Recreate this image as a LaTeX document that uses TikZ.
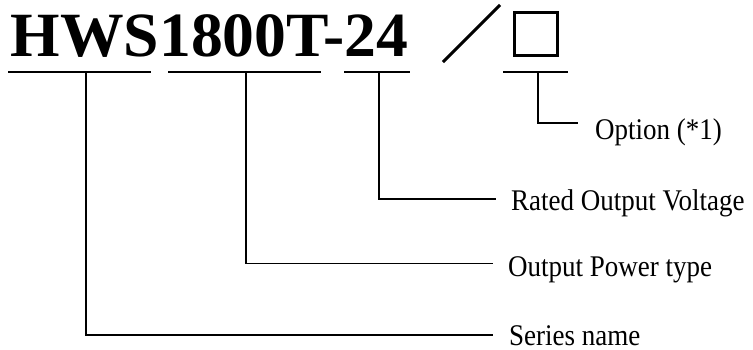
\documentclass[tikz,border=0pt]{standalone}
\usepackage{fontspec}
\setmainfont{Liberation Serif}
\begin{document}
\begin{tikzpicture}[x=1pt,y=-1pt]
\tikzset{
  conn/.style={line width=1.6pt, line cap=rect},
  uline/.style={line width=1.6pt},
  heavy/.style={line width=3pt},
  lbl/.style={font=\fontsize{30}{30}\selectfont, anchor=base west, inner sep=0pt, xscale=0.9},
  ttl/.style={font=\bfseries\fontsize{63}{63}\selectfont, anchor=base west, inner sep=0pt, xscale=1.01}
}
\useasboundingbox (0,0) rectangle (753,349);
% title
\node[ttl] (title) at (10.5,56) {HWS1800T-24};
% slash and box
\coordinate (sa) at (443,62);
\coordinate (sb) at (500,5);
\draw[heavy] (sa) -- (sb);
\draw[heavy] (514.5,12.5) rectangle (557.5,55.5);
% underlines
\draw[uline] (8,72) -- (151,72);
\draw[uline] (168,72) -- (321,72);
\draw[uline] (344,72) -- (410,72);
\draw[uline] (503,72) -- (568,72);
\coordinate (u1) at (86,72);
\coordinate (u2) at (246,72);
\coordinate (u3) at (379,72);
\coordinate (u4) at (538,72);
% labels
\node[lbl] (opt) at (595,139) {Option (*1)};
\node[lbl] (rated) at (511,210) {Rated Output Voltage};
\node[lbl] (power) at (508,276) {Output Power type};
\node[lbl] (series) at (509,345) {Series name};
% line ends
\coordinate (e4) at (577,123);
\coordinate (e3) at (495,199);
\coordinate (e2) at (492,263.5);
\coordinate (e1) at (492,335);
\draw[conn] (u4) |- (e4);
\draw[conn] (u3) |- (e3);
\draw[conn] (u2) |- (e2);
\draw[conn] (u1) |- (e1);
\end{tikzpicture}
\end{document}
